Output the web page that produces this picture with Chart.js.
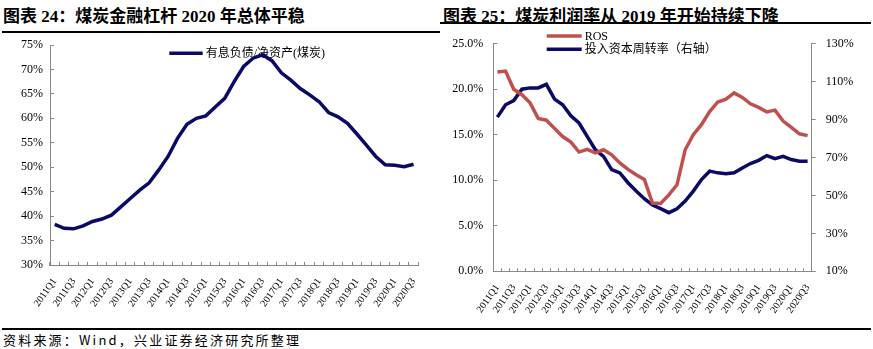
<!DOCTYPE html>
<html>
<head>
<meta charset="utf-8">
<script src="https://cdn.jsdelivr.net/npm/chart.js@4.4.1/dist/chart.umd.min.js"></script>
<style>
body{margin:0;width:873px;height:349px;background:#fff;position:relative;overflow:hidden;font-family:"Liberation Serif","Noto Sans CJK SC",serif;color:#000;}
.titulo{position:absolute;top:2px;font-size:17px;font-weight:bold;white-space:nowrap;}
.regla{position:absolute;height:2px;background:#000;}
canvas{position:absolute;}
#fuente{position:absolute;left:3px;top:330px;font-size:13px;letter-spacing:2.2px;white-space:nowrap;font-family:"Noto Sans CJK SC",sans-serif;}
</style>
</head>
<body>
<div class="titulo" style="left:3px">图表 24：煤炭金融杠杆 2020 年总体平稳</div>
<div class="regla" style="left:2px;width:438px;top:31px"></div>
<div class="titulo" style="left:443px">图表 25：煤炭利润率从 2019 年开始持续下降</div>
<div class="regla" style="left:440px;width:431px;top:22px"></div>

<canvas id="grafico__izq" width="440" height="290" style="left:0;top:35px"></canvas>
<canvas id="grafico__der" width="433" height="295" style="left:440px;top:30px"></canvas>

<div class="regla" style="left:2px;width:869px;top:328px;height:1.5px"></div>
<div id="fuente">资料来源：Wind，兴业证券经济研究所整理</div>

<script>
// trimestres 2011Q1 - 2020Q3
const trimestres = ['2011Q1','2011Q2','2011Q3','2011Q4','2012Q1','2012Q2','2012Q3','2012Q4',
  '2013Q1','2013Q2','2013Q3','2013Q4','2014Q1','2014Q2','2014Q3','2014Q4',
  '2015Q1','2015Q2','2015Q3','2015Q4','2016Q1','2016Q2','2016Q3','2016Q4',
  '2017Q1','2017Q2','2017Q3','2017Q4','2018Q1','2018Q2','2018Q3','2018Q4',
  '2019Q1','2019Q2','2019Q3','2019Q4','2020Q1','2020Q2','2020Q3'];

// 有息负债/净资产(煤炭) %
const apalancamiento = [38.3, 37.5, 37.4, 38.0, 38.9, 39.4, 40.2, 41.9, 43.6, 45.3,
  46.8, 49.4, 52.2, 55.9, 58.8, 60.0, 60.5, 62.3, 64.1, 67.5,
  70.6, 72.3, 73.0, 71.8, 69.3, 67.8, 66.1, 64.8, 63.4, 61.2,
  60.3, 59.0, 56.8, 54.5, 52.2, 50.5, 50.4, 50.1, 50.6];

// ROS % (eje izquierdo)
const ros = [21.9, 22.0, 20.0, 19.4, 18.5, 16.8, 16.6, 15.7, 14.8, 14.2,
  13.1, 13.4, 13.0, 13.35, 12.8, 11.9, 11.2, 10.6, 10.1, 7.5,
  7.45, 8.4, 9.5, 13.35, 15.0, 16.1, 17.55, 18.6, 18.9, 19.6,
  19.1, 18.4, 18.0, 17.5, 17.7, 16.5, 15.8, 15.1, 14.9];

// 投入资本周转率 % (eje derecho)
const rotacion = [91.3, 97.8, 100.0, 106.0, 106.7, 106.7, 108.6, 100.8, 97.8, 92.0,
  88.2, 81.1, 74.1, 70.6, 63.6, 61.9, 56.7, 52.3, 48.3, 44.9,
  43.0, 40.9, 43.0, 47.0, 52.3, 58.4, 62.8, 61.9, 61.5, 61.9,
  64.5, 66.8, 68.5, 71.0, 69.4, 70.6, 68.9, 68.0, 68.0];

const ROJO = '#C0504D';
const AZUL = '#0A0A66';
const GRIS = '#888888';
const fuenteTicks = {family: '"Liberation Serif", serif', size: 12};
const fuenteX = {family: '"Liberation Serif", serif', size: 10};

// leyenda dentro del area del grafico (debajo de las lineas)
const leyendaInterna = {
  id: 'leyendaInterna',
  beforeDatasetsDraw(chart, args, opts){
    const ctx = chart.ctx;
    ctx.save();
    ctx.font = opts.font;
    ctx.textBaseline = 'middle';
    chart.data.datasets.forEach((ds, i) => {
      const y = opts.y + i * opts.gap;
      ctx.strokeStyle = ds.borderColor;
      ctx.lineWidth = ds.borderWidth;
      ctx.beginPath();
      ctx.moveTo(opts.x, y);
      ctx.lineTo(opts.x + opts.largo, y);
      ctx.stroke();
      ctx.fillStyle = '#000';
      ctx.fillText(ds.label, opts.x + opts.largo + 3, y + 1);
    });
    ctx.restore();
  }
};

function ejeX(alto, padding){
  return {
    offset: true,
    grid: {offset: true, drawOnChartArea: false, tickLength: -3, color: GRIS},
    border: {color: GRIS, width: 1},
    ticks: {
      autoSkip: false, minRotation: 55, maxRotation: 55, padding: padding,
      font: fuenteX, color: '#000',
      callback: function(v, i){ return i % 2 === 0 ? this.getLabelForValue(v) : ''; }
    },
    // alto fijo para que el area del grafico quede donde se quiere
    afterFit(s){ s.height = alto; s.paddingLeft = 0; s.paddingRight = 0; }
  };
}

function ejeY(min, max, paso, formato, ancho, padding, posicion, largoTick){
  return {
    position: posicion, min: min, max: max,
    grid: {drawOnChartArea: false, tickLength: largoTick, color: GRIS},
    border: {color: GRIS, width: 1},
    ticks: {stepSize: paso, padding: padding, font: fuenteTicks, color: '#000', callback: formato},
    afterFit(s){ s.width = ancho; s.paddingTop = 0; s.paddingBottom = 0; }
  };
}

Chart.defaults.animation = false;

new Chart(document.querySelector('#grafico__izq'), {
  type: 'line',
  data: {
    labels: trimestres,
    datasets: [{
      label: '有息负债/净资产(煤炭)',
      data: apalancamiento,
      borderColor: AZUL, backgroundColor: AZUL,
      borderWidth: 3.5, pointRadius: 0, tension: 0
    }]
  },
  options: {
    responsive: false,
    layout: {padding: {left: 0, top: 10, right: 21.7, bottom: 0}},
    plugins: {
      legend: {display: false}, tooltip: {enabled: false},
      leyendaInterna: {x: 169.3, y: 18.3, gap: 0, largo: 33.4, font: '12px "Liberation Serif", "Noto Sans CJK SC"'}
    },
    scales: {
      x: ejeX(60, 14),
      y: ejeY(30, 75, 5, v => v + '%', 50, 11, 'left', -4)
    }
  },
  plugins: [leyendaInterna]
});

new Chart(document.querySelector('#grafico__der'), {
  type: 'line',
  data: {
    labels: trimestres,
    datasets: [{
      label: 'ROS',
      data: ros, yAxisID: 'y',
      borderColor: ROJO, backgroundColor: ROJO,
      borderWidth: 3.5, pointRadius: 0, tension: 0
    }, {
      label: '投入资本周转率（右轴）',
      data: rotacion, yAxisID: 'y1',
      borderColor: AZUL, backgroundColor: AZUL,
      borderWidth: 3.5, pointRadius: 0, tension: 0
    }]
  },
  options: {
    responsive: false,
    layout: {padding: {left: 0, top: 13.7, right: 0, bottom: 0}},
    plugins: {
      legend: {display: false}, tooltip: {enabled: false},
      leyendaInterna: {x: 106.7, y: 6, gap: 13.3, largo: 35, font: '12px "Liberation Serif", "Noto Sans CJK SC"'}
    },
    scales: {
      x: ejeX(53.7, 14),
      y: ejeY(0, 25, 5, v => v.toFixed(1) + '%', 53.3, 14, 'left', -4),
      y1: ejeY(10, 130, 20, v => v + '%', 61.3, 10, 'right', 4)
    }
  },
  plugins: [leyendaInterna]
});
</script>
</body>
</html>
